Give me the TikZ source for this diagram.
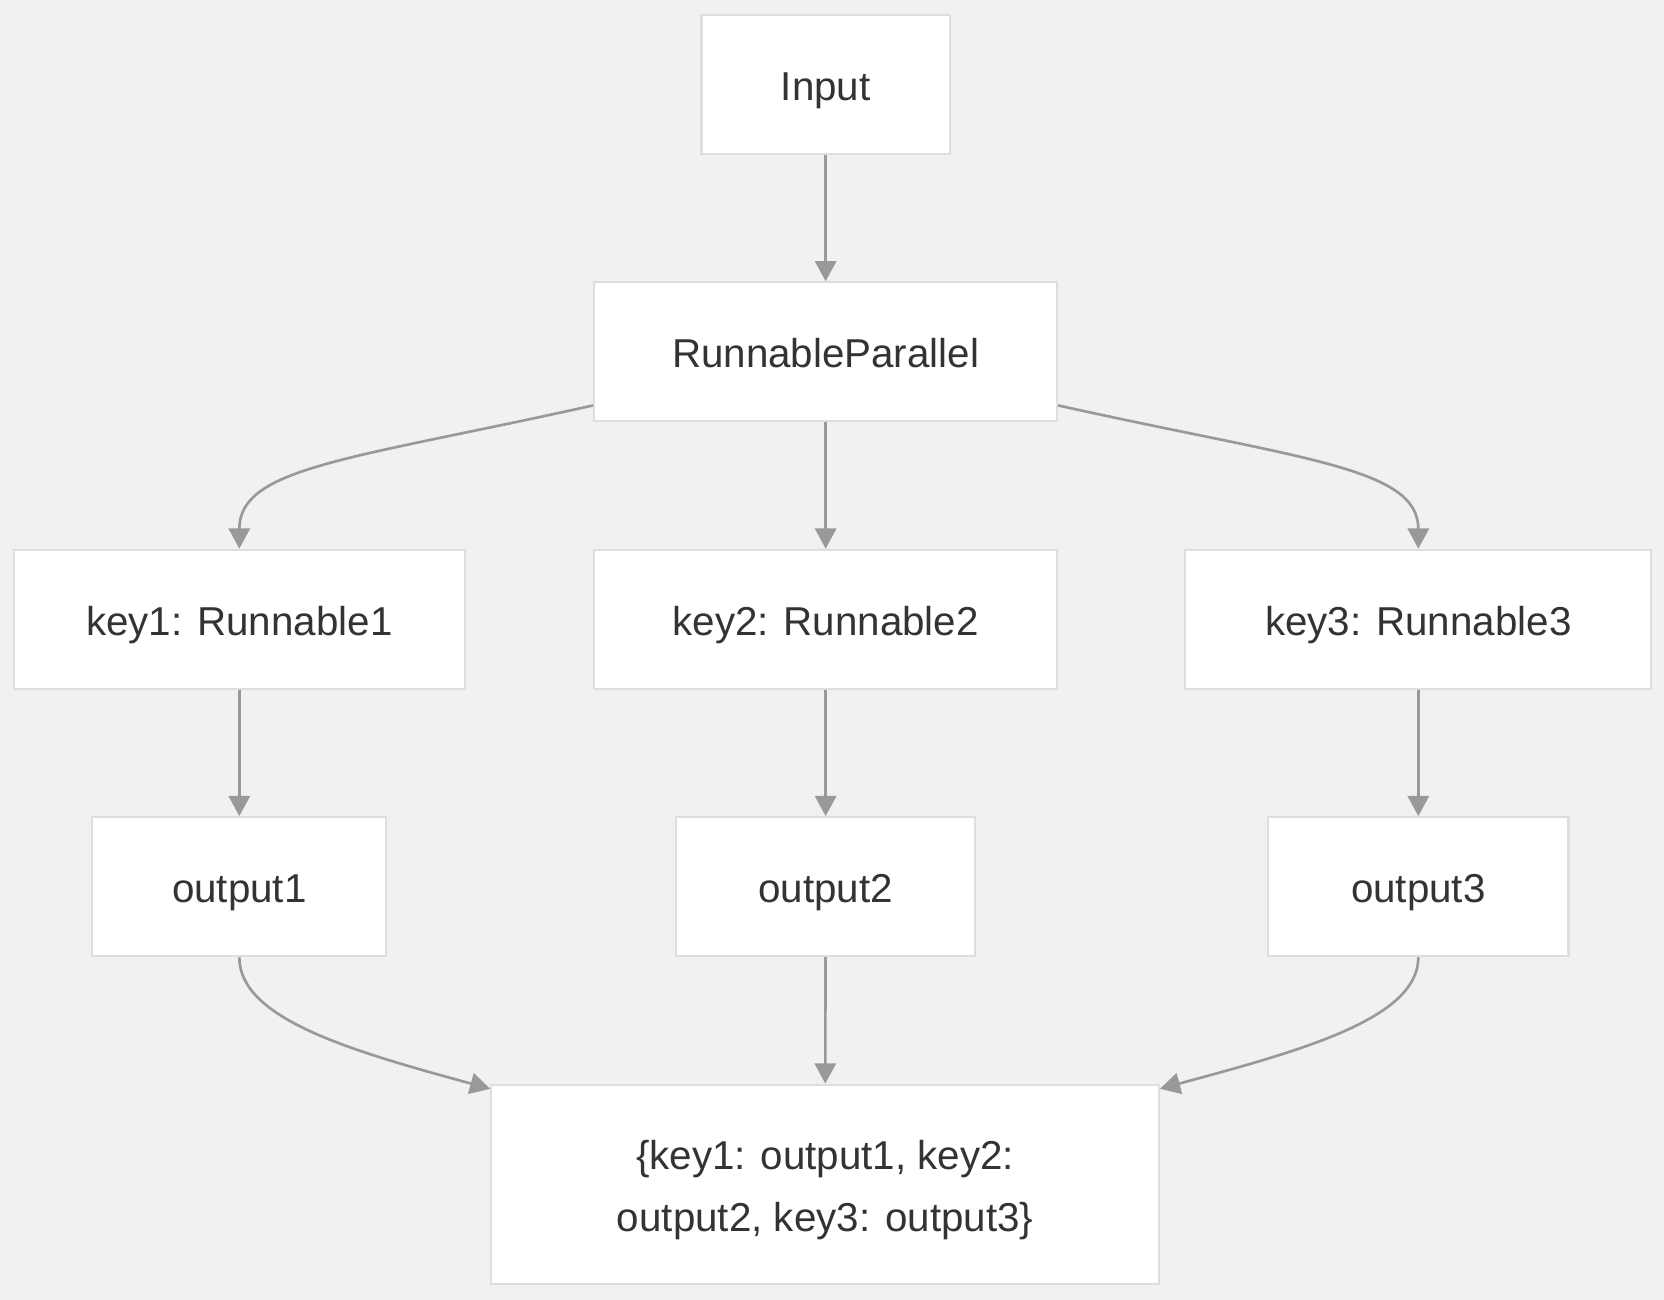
\documentclass[tikz,border=0pt]{standalone}
\usepackage{fontspec}
\setmainfont{Liberation Sans}
\usetikzlibrary{arrows.meta}
\definecolor{bg}{RGB}{242,241,239}
\definecolor{boxline}{RGB}{222,222,222}
\definecolor{edgecol}{RGB}{153,153,153}
\definecolor{txt}{RGB}{51,51,51}
\tikzset{
  box/.style={draw=boxline, line width=1pt, fill=white, inner sep=0pt,
    minimum height=65.5pt, text=txt, font=\fontsize{19}{29}\selectfont,
    text height=15.1pt, text depth=0pt},
  bigbox/.style={draw=boxline, line width=1pt, fill=white, inner sep=0pt},
  boxtext/.style={inner sep=0pt, text=txt, font=\fontsize{19}{29}\selectfont, align=center},
  conn/.style={draw=edgecol, line width=1.25pt,
    -{Triangle[length=9.5pt,width=10pt]}}
}
\begin{document}
\begin{tikzpicture}[x=0.5pt,y=-0.5pt]
\fill[bg] (0,0) rectangle (1568,1225);
\useasboundingbox (0,0) rectangle (1568,1225);

\node[box, minimum width=117pt] (inp) at (778,79.5) {Input};
\node[box, minimum width=218pt] (rp) at (778,331.5) {RunnableParallel};
\node[box, minimum width=212.5pt] (k1) at (225.5,583.5) {key1: Runnable1};
\node[box, minimum width=218pt] (k2) at (778,583.5) {key2: Runnable2};
\node[box, minimum width=219.5pt] (k3) at (1336.5,583.5) {key3: Runnable3};
\node[box, minimum width=138.5pt] (o1) at (225.5,835.5) {output1};
\node[box, minimum width=141pt] (o2) at (778,835.5) {output2};
\node[box, minimum width=141.5pt] (o3) at (1336.5,835.5) {output3};
\node[bigbox, minimum width=314.5pt, minimum height=94pt] (fin) at (777.5,1116) {};
\node[boxtext] (fintext) at ([yshift=-2.75pt]fin.center)
  {\{key1: output1, key2:\\output2, key3: output3\}};

\draw[conn] (inp) -- (rp);
\draw[conn] (rp) -- (k2);
\draw[conn] (k1) -- (o1);
\draw[conn] (k2) -- (o2);
\draw[conn] (k3) -- (o3);
\draw[conn] (o2) -- (fin);

\draw[conn] ([yshift=8pt]rp.south west) .. controls (330,433) and (225.5,440) .. (k1.north);
\draw[conn] ([yshift=8pt]rp.south east) .. controls (1226,433) and (1336.5,440) .. (k3.north);

\draw[conn] (o1.south) .. controls (225.5,960) and (330,990) .. ([yshift=-2.5pt]fin.north west);
\draw[conn] (o3.south) .. controls (1336.5,960) and (1226,990) .. ([yshift=-2.5pt]fin.north east);
\end{tikzpicture}
\end{document}
